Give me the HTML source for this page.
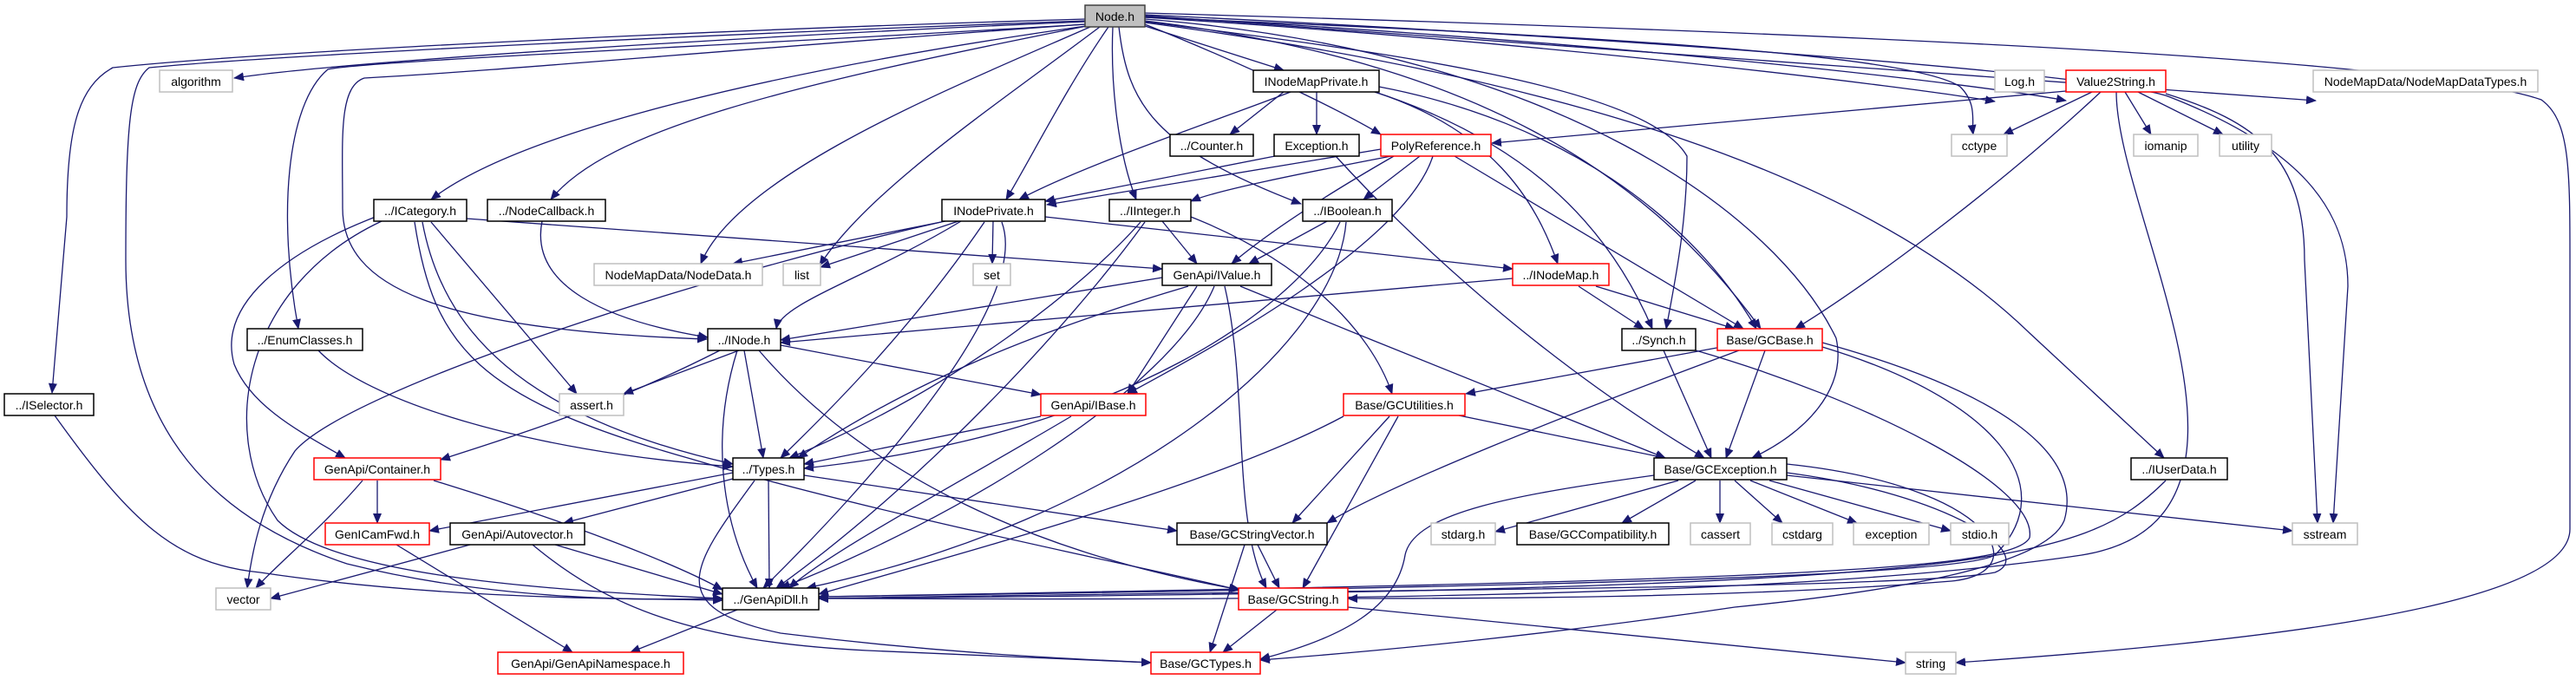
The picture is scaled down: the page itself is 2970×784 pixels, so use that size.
<!DOCTYPE html>
<html><head><meta charset="utf-8"><style>
html,body{margin:0;padding:0;background:#fff}
svg{display:block}
text{font-family:"Liberation Sans","DejaVu Sans",sans-serif;font-size:14px;fill:#000;text-anchor:middle}
.e{fill:none;stroke:#191970;stroke-width:1.3}
.b{fill:#fff;stroke:#000;stroke-width:1.5}
.g{fill:#fff;stroke:#bfbfbf;stroke-width:1.5}
.r{fill:#fff;stroke:#ff0000;stroke-width:1.5}
</style></head><body>
<svg width="2970" height="784" viewBox="0 0 2970 784" xmlns="http://www.w3.org/2000/svg">
<defs><marker id="a" markerUnits="userSpaceOnUse" markerWidth="12" markerHeight="10" refX="11" refY="5" orient="auto"><path d="M0,0 L12,5 L0,10 z" fill="#191970"/></marker></defs>
<g class="e" marker-end="url(#a)">
<path d="M1251,25 C900,40 400,70 270,90"/>
<path d="M1251,22 C800,35 300,60 130,78 C90,100 77,150 77,250 L60,453"/>
<path d="M1251,24 C800,40 300,65 172,78 C150,95 145,140 145,300 C145,500 250,600 400,650 C600,700 800,690 833,690"/>
<path d="M1251,28 C900,50 420,70 378,80 C330,120 320,250 344,379"/>
<path d="M1251,28 C800,60 600,80 420,90 C390,100 395,160 395,240 C395,330 500,380 815,391"/>
<path d="M1252,30 C900,80 600,150 497,230"/>
<path d="M1253,30 C900,100 700,150 635,230"/>
<path d="M1257,31 C1100,100 850,200 808,304"/>
<path d="M1268,31 C1150,120 1000,220 945,306"/>
<path d="M1278,31 C1230,100 1190,180 1160,230"/>
<path d="M1283,31 C1280,100 1290,180 1310,230"/>
<path d="M1290,31 C1300,120 1330,170 1500,235"/>
<path d="M1320,30 L1480,81"/>
<path d="M1320,28 C1450,80 1550,130 1592,155"/>
<path d="M1320,25 C1600,60 1900,100 1945,180 C1945,260 1930,330 1921,379"/>
<path d="M1320,24 C1700,70 1900,200 2030,379"/>
<path d="M1320,22 C1800,60 2050,250 2117,390 C2130,450 2080,500 2020,528"/>
<path d="M1320,20 C1800,40 2200,60 2260,100 C2280,120 2273,140 2275,155"/>
<path d="M1320,20 C1800,50 2200,100 2300,117"/>
<path d="M1320,19 C1900,50 2300,100 2382,116"/>
<path d="M1320,18 L2670,116"/>
<path d="M1320,17 C2000,50 2450,90 2502,112 C2650,170 2707,240 2707,330 L2690,603"/>
<path d="M1320,15 C2200,40 2800,70 2930,115 C2965,140 2963,200 2963,330 L2963,610 C2963,700 2600,740 2255,764"/>
<path d="M1320,26 C1800,90 2150,200 2340,384 L2495,528"/>
<path d="M1480,106 L1418,155"/>
<path d="M1518,106 L1518,155"/>
<path d="M1488,106 C1400,140 1250,190 1175,230"/>
<path d="M1585,106 C1720,150 1770,230 1796,304"/>
<path d="M1585,106 C1750,160 1850,250 1905,379"/>
<path d="M1590,100 C1800,140 1950,250 2025,379"/>
<path d="M1470,180 L1205,232"/>
<path d="M1540,180 C1650,300 1800,430 1965,528"/>
<path d="M1592,172 L1207,236"/>
<path d="M1604,180 C1500,200 1400,220 1373,232"/>
<path d="M1637,180 L1572,230"/>
<path d="M1607,180 C1520,230 1460,270 1420,304"/>
<path d="M1652,180 C1620,280 1400,400 1300,454"/>
<path d="M1677,180 L2010,379"/>
<path d="M2382,105 L1720,165"/>
<path d="M2412,106 L2310,155"/>
<path d="M2450,106 L2480,155"/>
<path d="M2465,106 L2563,155"/>
<path d="M2422,106 C2300,220 2150,330 2070,379"/>
<path d="M2440,106 C2440,250 2650,600 2400,640 C2000,700 1200,690 944,690"/>
<path d="M2497,108 C2600,140 2657,180 2657,300 L2672,603"/>
<path d="M1090,255 L845,304"/>
<path d="M1105,255 L946,308"/>
<path d="M1145,255 L1144,304"/>
<path d="M1108,255 C1000,320 900,350 895,379"/>
<path d="M1085,256 C800,320 400,450 340,520 C300,580 290,640 285,678"/>
<path d="M1205,250 L1744,310"/>
<path d="M1135,256 C1050,380 960,470 900,528"/>
<path d="M1155,256 C1190,350 1000,560 880,678"/>
<path d="M1340,255 L1380,304"/>
<path d="M1315,256 C1250,330 1100,450 910,528"/>
<path d="M1320,256 C1230,380 1060,560 895,678"/>
<path d="M1373,250 C1500,300 1580,380 1605,454"/>
<path d="M1530,255 L1440,304"/>
<path d="M1545,256 C1500,350 1300,500 927,540"/>
<path d="M1552,256 C1540,400 1300,600 930,678"/>
<path d="M538,252 L1340,310"/>
<path d="M433,250 C330,290 250,350 270,420 C290,470 350,500 398,528"/>
<path d="M440,255 C280,330 250,500 320,600 C380,660 600,680 833,690"/>
<path d="M497,256 L665,454"/>
<path d="M487,256 C510,380 600,480 845,535"/>
<path d="M478,256 C500,400 550,460 800,530 C1000,590 1300,650 1428,680"/>
<path d="M625,255 C610,330 700,370 816,389"/>
<path d="M367,404 C420,460 600,520 845,538"/>
<path d="M1340,320 L900,392"/>
<path d="M1370,330 C1200,380 1050,440 920,528"/>
<path d="M1380,330 L1300,454"/>
<path d="M1400,330 C1350,450 1100,600 900,678"/>
<path d="M1412,330 C1440,450 1420,600 1460,678"/>
<path d="M1430,330 C1600,400 1800,480 1920,528"/>
<path d="M1744,321 L900,395"/>
<path d="M1820,330 L1895,379"/>
<path d="M1840,330 L2000,379"/>
<path d="M868,398 L719,454"/>
<path d="M830,404 C700,470 600,500 508,530"/>
<path d="M858,404 L880,528"/>
<path d="M850,404 C820,500 830,600 873,678"/>
<path d="M900,398 L1200,455"/>
<path d="M875,404 C1000,550 1200,640 1430,680"/>
<path d="M1918,404 L1973,528"/>
<path d="M1955,404 C2150,460 2350,560 2340,620 C2320,660 2000,670 944,688"/>
<path d="M1985,400 L1690,454"/>
<path d="M2005,404 C1800,480 1600,560 1530,603"/>
<path d="M2035,404 L1990,528"/>
<path d="M2101,400 C2300,460 2380,560 2300,640 C2250,670 1500,680 944,688"/>
<path d="M2101,395 C2300,450 2403,520 2380,600 C2360,650 2200,680 2000,700 C1800,730 1600,750 1453,761"/>
<path d="M1682,479 L1920,528"/>
<path d="M1602,480 L1490,603"/>
<path d="M1612,480 L1502,678"/>
<path d="M1549,480 C1400,560 1100,640 944,685"/>
<path d="M1200,480 L927,535"/>
<path d="M1235,480 C1100,560 950,640 910,678"/>
<path d="M435,554 L435,603"/>
<path d="M418,554 C370,610 320,650 295,678"/>
<path d="M500,554 C650,600 780,650 833,680"/>
<path d="M845,545 L495,612"/>
<path d="M845,552 L650,603"/>
<path d="M886,554 L887,678"/>
<path d="M927,548 L1357,612"/>
<path d="M870,554 C800,650 760,700 900,730 C1100,755 1250,760 1327,764"/>
<path d="M1935,554 L1724,613"/>
<path d="M1955,554 L1870,603"/>
<path d="M1983,554 L1983,603"/>
<path d="M2000,554 L2055,603"/>
<path d="M2018,554 L2141,603"/>
<path d="M2040,554 L2249,612"/>
<path d="M2060,548 L2643,612"/>
<path d="M2060,545 C2250,570 2350,640 2300,660 C2200,680 1500,680 944,690"/>
<path d="M2060,535 C2300,560 2350,660 2250,670 C2000,690 1700,690 1554,690"/>
<path d="M1907,548 C1750,570 1630,590 1620,640 C1610,700 1550,735 1453,760"/>
<path d="M2497,554 C2400,650 2300,680 944,690"/>
<path d="M457,628 L660,752"/>
<path d="M542,628 L312,690"/>
<path d="M640,628 L833,685"/>
<path d="M614,628 C700,700 800,740 1000,750 L1327,764"/>
<path d="M850,703 L727,752"/>
<path d="M1450,628 L1475,678"/>
<path d="M1435,628 L1395,752"/>
<path d="M1472,703 L1410,752"/>
<path d="M1554,700 L2197,764"/>
<path d="M63,479 C150,600 200,650 300,660 C500,690 700,690 833,692"/>
</g>
<g>
<rect x="1251" y="6" width="69" height="25" fill="#bfbfbf" stroke="#404040" stroke-width="1.5"/><text x="1285.5" y="24">Node.h</text>
<rect class="g" x="184" y="81" width="84" height="25"/><text x="226" y="99">algorithm</text>
<rect class="b" x="1445" y="81" width="145" height="25"/><text x="1517.5" y="99">INodeMapPrivate.h</text>
<rect class="g" x="2300" y="81" width="57" height="25"/><text x="2328.5" y="99">Log.h</text>
<rect class="r" x="2382" y="81" width="115" height="25"/><text x="2439.5" y="99">Value2String.h</text>
<rect class="g" x="2667" y="81" width="259" height="25"/><text x="2796.5" y="99">NodeMapData/NodeMapDataTypes.h</text>
<rect class="b" x="1349" y="155" width="96" height="25"/><text x="1397" y="173">../Counter.h</text>
<rect class="b" x="1469" y="155" width="98" height="25"/><text x="1518" y="173">Exception.h</text>
<rect class="r" x="1592" y="155" width="127" height="25"/><text x="1655.5" y="173">PolyReference.h</text>
<rect class="g" x="2250" y="155" width="64" height="25"/><text x="2282" y="173">cctype</text>
<rect class="g" x="2460" y="155" width="74" height="25"/><text x="2497" y="173">iomanip</text>
<rect class="g" x="2559" y="155" width="60" height="25"/><text x="2589" y="173">utility</text>
<rect class="b" x="431" y="230" width="107" height="25"/><text x="484.5" y="248">../ICategory.h</text>
<rect class="b" x="562" y="230" width="136" height="25"/><text x="630" y="248">../NodeCallback.h</text>
<rect class="b" x="1086" y="230" width="119" height="25"/><text x="1145.5" y="248">INodePrivate.h</text>
<rect class="b" x="1279" y="230" width="94" height="25"/><text x="1326" y="248">../IInteger.h</text>
<rect class="b" x="1502" y="230" width="103" height="25"/><text x="1553.5" y="248">../IBoolean.h</text>
<rect class="g" x="685" y="304" width="194" height="25"/><text x="782" y="322">NodeMapData/NodeData.h</text>
<rect class="g" x="903" y="304" width="43" height="25"/><text x="924.5" y="322">list</text>
<rect class="g" x="1122" y="304" width="43" height="25"/><text x="1143.5" y="322">set</text>
<rect class="b" x="1340" y="304" width="126" height="25"/><text x="1403" y="322">GenApi/IValue.h</text>
<rect class="r" x="1744" y="304" width="111" height="25"/><text x="1799.5" y="322">../INodeMap.h</text>
<rect class="b" x="285" y="379" width="133" height="25"/><text x="351.5" y="397">../EnumClasses.h</text>
<rect class="b" x="816" y="379" width="84" height="25"/><text x="858" y="397">../INode.h</text>
<rect class="b" x="1870" y="379" width="85" height="25"/><text x="1912.5" y="397">../Synch.h</text>
<rect class="r" x="1980" y="379" width="121" height="25"/><text x="2040.5" y="397">Base/GCBase.h</text>
<rect class="b" x="5" y="454" width="103" height="25"/><text x="56.5" y="472">../ISelector.h</text>
<rect class="g" x="645" y="454" width="74" height="25"/><text x="682" y="472">assert.h</text>
<rect class="r" x="1200" y="454" width="121" height="25"/><text x="1260.5" y="472">GenApi/IBase.h</text>
<rect class="r" x="1549" y="454" width="140" height="25"/><text x="1619" y="472">Base/GCUtilities.h</text>
<rect class="r" x="362" y="528" width="146" height="25"/><text x="435" y="546">GenApi/Container.h</text>
<rect class="b" x="845" y="528" width="82" height="25"/><text x="886" y="546">../Types.h</text>
<rect class="b" x="1907" y="528" width="153" height="25"/><text x="1983.5" y="546">Base/GCException.h</text>
<rect class="b" x="2457" y="528" width="111" height="25"/><text x="2512.5" y="546">../IUserData.h</text>
<rect class="r" x="375" y="603" width="120" height="25"/><text x="435" y="621">GenICamFwd.h</text>
<rect class="b" x="519" y="603" width="155" height="25"/><text x="596.5" y="621">GenApi/Autovector.h</text>
<rect class="b" x="1357" y="603" width="173" height="25"/><text x="1443.5" y="621">Base/GCStringVector.h</text>
<rect class="g" x="1650" y="603" width="74" height="25"/><text x="1687" y="621">stdarg.h</text>
<rect class="b" x="1749" y="603" width="175" height="25"/><text x="1836.5" y="621">Base/GCCompatibility.h</text>
<rect class="g" x="1949" y="603" width="69" height="25"/><text x="1983.5" y="621">cassert</text>
<rect class="g" x="2043" y="603" width="70" height="25"/><text x="2078" y="621">cstdarg</text>
<rect class="g" x="2137" y="603" width="87" height="25"/><text x="2180.5" y="621">exception</text>
<rect class="g" x="2249" y="603" width="67" height="25"/><text x="2282.5" y="621">stdio.h</text>
<rect class="g" x="2643" y="603" width="75" height="25"/><text x="2680.5" y="621">sstream</text>
<rect class="g" x="249" y="678" width="63" height="25"/><text x="280.5" y="696">vector</text>
<rect class="b" x="833" y="678" width="111" height="25"/><text x="888.5" y="696">../GenApiDll.h</text>
<rect class="r" x="1428" y="678" width="126" height="25"/><text x="1491" y="696">Base/GCString.h</text>
<rect class="r" x="574" y="752" width="214" height="25"/><text x="681" y="770">GenApi/GenApiNamespace.h</text>
<rect class="r" x="1327" y="752" width="126" height="25"/><text x="1390" y="770">Base/GCTypes.h</text>
<rect class="g" x="2197" y="752" width="58" height="25"/><text x="2226" y="770">string</text>
</g>
</svg>
</body></html>
